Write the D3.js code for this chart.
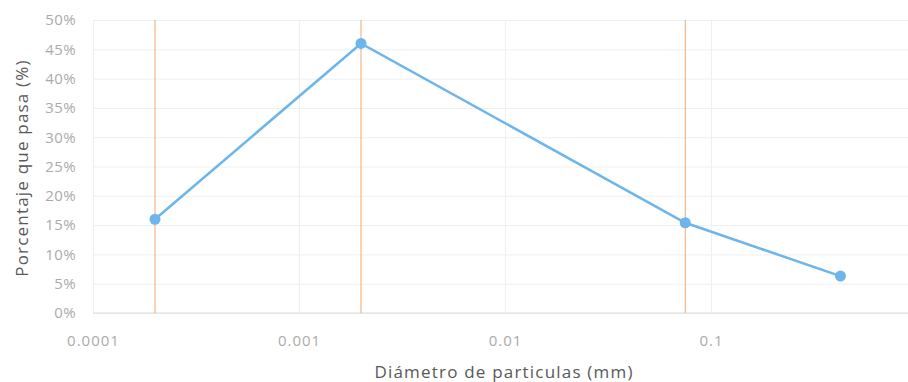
<!DOCTYPE html>
<html lang="es">
<head>
<meta charset="UTF-8">
<title>Granulometría</title>
<script src="https://d3js.org/d3.v7.min.js"></script>
<style>
  body { margin: 0; background: #fff; }
  text { font-family: "Open Sans", "Noto Sans", sans-serif; }
</style>
</head>
<body>
<svg id="chart" width="908" height="382"></svg>
<script>
// datos
const diametros = [0.0002, 0.002, 0.075, 0.425];   // mm
const pasa = [0.16, 0.46, 0.154, 0.063];            // fracción
const limites = [0.0002, 0.002, 0.075];             // líneas verticales
const xTicks = [0.0001, 0.001, 0.01, 0.1];
const yTicks = d3.range(0, 0.501, 0.05);

const svg = d3.select("#chart");
const mLeft = 93, mRight = 917, mTop = 20, mBottom = 313;

const x = d3.scaleLog().domain([0.0001, 1]).range([mLeft, mRight]);
const y = d3.scaleLinear().domain([0, 0.5]).range([mBottom, mTop]);

// rejilla horizontal
svg.append("g")
  .attr("transform", `translate(${mLeft},0)`)
  .call(d3.axisLeft(y).tickValues(yTicks).tickSize(-(mRight - mLeft)).tickFormat(""))
  .call(g => g.select(".domain").remove())
  .call(g => g.selectAll("line").attr("stroke", "#efefef"));

// rejilla vertical (décadas)
svg.append("g")
  .attr("transform", `translate(0,${mBottom})`)
  .call(d3.axisBottom(x).tickValues(xTicks).tickSize(-(mBottom - mTop)).tickFormat(""))
  .call(g => g.select(".domain").remove())
  .call(g => g.selectAll("line").attr("stroke", "#efefef"));

// eje x base
svg.append("line")
  .attr("x1", mLeft).attr("x2", mRight)
  .attr("y1", y(0)).attr("y2", y(0))
  .attr("stroke", "#dcdcdc");

// etiquetas eje y
svg.append("g")
  .attr("transform", `translate(${mLeft - 14},0)`)
  .call(d3.axisLeft(y).tickValues(yTicks).tickSize(0).tickFormat(d3.format(".0%")))
  .call(g => g.select(".domain").remove())
  .call(g => g.selectAll("text")
    .attr("fill", "#ababab").attr("font-size", 15)
    .attr("letter-spacing", 0.4));

// etiquetas eje x
svg.append("g")
  .attr("transform", `translate(0,${mBottom + 19})`)
  .call(d3.axisBottom(x).tickValues(xTicks).tickSize(0).tickFormat(d => String(d)))
  .call(g => g.select(".domain").remove())
  .call(g => g.selectAll("text")
    .attr("fill", "#ababab").attr("font-size", 15)
    .attr("letter-spacing", 1));

// líneas de límite
svg.append("g").selectAll("line")
  .data(limites)
  .enter().append("line")
  .attr("x1", d => x(d)).attr("x2", d => x(d))
  .attr("y1", mTop).attr("y2", mBottom)
  .attr("stroke", "#f2a868")
  .attr("stroke-width", 1);

// serie
const pts = diametros.map((d, i) => [d, pasa[i]]);
svg.append("path")
  .datum(pts)
  .attr("d", d3.line().x(d => x(d[0])).y(d => y(d[1])))
  .attr("fill", "none")
  .attr("stroke", "#6db5ea")
  .attr("stroke-width", 2.5);

svg.append("g").selectAll("circle")
  .data(pts)
  .enter().append("circle")
  .attr("cx", d => x(d[0]))
  .attr("cy", d => y(d[1]))
  .attr("r", 5.5)
  .attr("fill", "#6db5ea");

// títulos
svg.append("text")
  .attr("x", 504).attr("y", 378)
  .attr("text-anchor", "middle")
  .attr("font-size", 17)
  .attr("letter-spacing", 1.2)
  .attr("fill", "#595959")
  .text("Diámetro de particulas (mm)");

svg.append("text")
  .attr("transform", "translate(28,168) rotate(-90)")
  .attr("text-anchor", "middle")
  .attr("font-size", 17)
  .attr("letter-spacing", 1.2)
  .attr("fill", "#595959")
  .text("Porcentaje que pasa (%)");
</script>
</body>
</html>
